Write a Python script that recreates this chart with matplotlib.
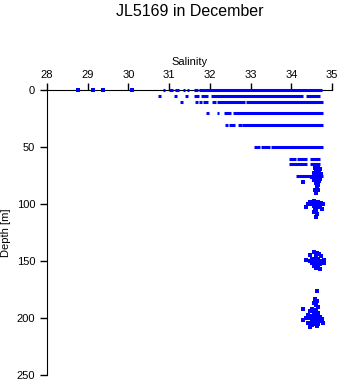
import numpy as np
import matplotlib
matplotlib.use('Agg')
import matplotlib.pyplot as plt

plt.rcParams['font.family'] = ['Liberation Sans', 'DejaVu Sans']

# continuous runs of samples: depth [m], salinity start, salinity end
seg_depth = [0, 0, 0, 0, 0, 0, 0,
             5, 5, 5, 5, 5, 5, 5,
             10.5, 10.5, 10.5, 10.5, 10.5, 10.5, 10.5,
             20, 20, 20, 20,
             30.5, 30.5, 30.5, 30.5,
             50, 50, 50,
             60.5, 60.5, 60.5,
             65, 65,
             75.5,
             99]
seg_smin = [30.85, 31.0, 31.15, 31.35, 31.45, 31.6, 31.73,
            30.73, 31.12, 31.4, 31.6, 31.78, 32.03, 34.35,
            31.27, 31.63, 31.73, 31.83, 32.05, 32.17, 32.89,
            31.9, 32.17, 32.35, 32.57,
            32.37, 32.47, 32.7, 32.8,
            33.08, 33.25, 33.5,
            33.95, 34.15, 34.46,
            33.95, 34.46,
            34.12,
            34.35]
seg_smax = [30.9, 31.1, 31.25, 31.4, 31.5, 31.72, 34.75,
            30.8, 31.2, 31.47, 31.73, 31.95, 34.3, 34.7,
            31.35, 31.72, 31.8, 31.95, 32.15, 32.87, 34.78,
            31.98, 32.23, 32.52, 34.78,
            32.45, 32.62, 32.78, 34.78,
            33.23, 33.48, 34.78,
            34.12, 34.38, 34.7,
            34.38, 34.7,
            34.78,
            34.75]

# single samples
pt_sal = [28.77, 29.13, 29.38, 30.1,
          34.62, 34.66, 34.58, 34.7, 34.64, 34.6, 34.68, 34.55, 34.62, 34.72,
          34.5, 34.58, 34.65, 34.7, 34.55, 34.62, 34.68, 34.28, 34.6, 34.65,
          34.62, 34.58, 34.65, 34.6,
          34.45, 34.55, 34.65, 34.72, 34.4, 34.5, 34.6, 34.7, 34.78, 34.55,
          34.62, 34.35, 34.68, 34.58, 34.6, 34.55, 34.62, 34.6, 34.75,
          34.55, 34.62, 34.68, 34.45, 34.6, 34.72, 34.5, 34.58, 34.66, 34.35,
          34.45, 34.55, 34.65, 34.75, 34.5, 34.6, 34.7, 34.8, 34.55, 34.65,
          34.6, 34.7, 34.8,
          34.62, 34.58, 34.62, 34.55, 34.6, 34.65, 34.52, 34.6, 34.28, 34.45,
          34.55, 34.65, 34.4, 34.5, 34.6, 34.7, 34.35, 34.45, 34.55, 34.65,
          34.75, 34.3, 34.5, 34.6, 34.7, 34.4, 34.55, 34.65, 34.78, 34.5,
          34.62, 34.45]
pt_depth = [0, 0, 0, 0,
            66, 67, 68, 69, 70, 71, 72, 73, 74, 74,
            76, 77, 77, 78, 79, 80, 80, 81, 82, 83,
            85, 88, 88, 90,
            98, 97, 98, 99, 100, 100, 100, 101, 100, 102,
            102, 103, 103, 104, 106, 107, 109, 111, 104,
            142, 143, 144, 145, 146, 146, 148, 148, 148, 149,
            150, 150, 150, 150, 152, 152, 153, 152, 154, 155,
            156, 157, 149,
            176, 183, 185, 187, 189, 190, 192, 193, 192, 194,
            195, 196, 197, 198, 198, 199, 200, 200, 201, 201,
            201, 202, 203, 203, 203, 204, 205, 205, 204, 206,
            207, 208]

xticks = [28, 29, 30, 31, 32, 33, 34, 35]
yticks = [0, 50, 100, 150, 200, 250]

fig = plt.figure(figsize=(3.41, 3.84), dpi=100)
ax = fig.add_axes([0.1378, 0.0234, 0.8358, 0.7422])

# draw data above the top spine so the surface row shows
ax.hlines(seg_depth, seg_smin, seg_smax, colors='#0000ff', linewidth=2.2,
          zorder=3, clip_on=False)
ax.plot(pt_sal, pt_depth, 's', color='#0000ff', markersize=2.2,
        markeredgewidth=0, zorder=3, clip_on=False)

ax.set_xlim(28, 35)
ax.set_ylim(250, 0)
ax.set_xticks(xticks)
ax.set_yticks(yticks)
ax.xaxis.tick_top()
ax.xaxis.set_label_position('top')
ax.tick_params(axis='both', direction='out', length=5, width=1,
               labelsize=8, colors='black')
ax.tick_params(axis='x', pad=2)
ax.set_xlabel('Salinity', fontsize=8, labelpad=4)
ax.set_ylabel('Depth [m]', fontsize=8, labelpad=4)

ax.spines['right'].set_visible(False)
ax.spines['bottom'].set_visible(False)

fig.text(0.557, 0.99, 'JL5169 in December', ha='center', va='top',
         fontsize=11.5)

fig.savefig('out.png', dpi=100)
